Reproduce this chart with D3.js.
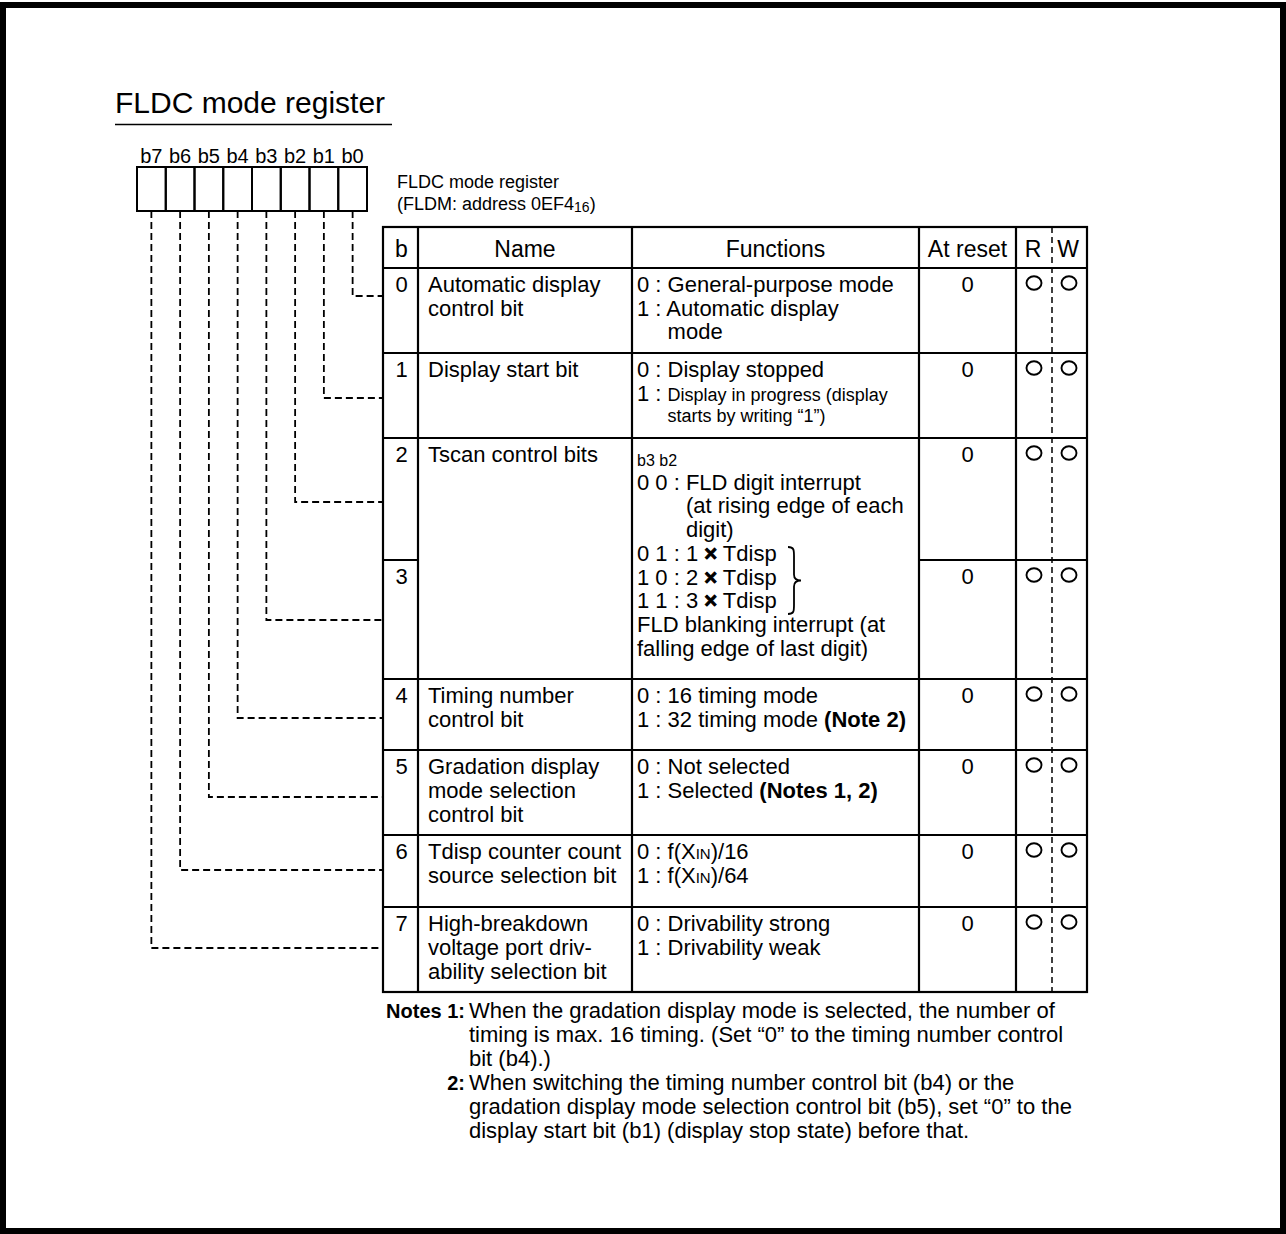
<!DOCTYPE html>
<html><head><meta charset="utf-8">
<script src="https://cdn.jsdelivr.net/npm/d3@7"></script>
<style>
body{margin:0;background:#fff}
svg{display:block}
text{font-family:"Liberation Sans",Arial,Helvetica,sans-serif;fill:#000;white-space:pre}
</style>
</head><body>
<svg id="c" width="1286" height="1234"></svg>
<script>
// ---------------- DATA ----------------
const titleText = "FLDC mode register";
const bitLabels = ["b7","b6","b5","b4","b3","b2","b1","b0"];
const registerCaption = ["FLDC mode register", "(FLDM: address 0EF4<sub>16</sub>)"];
const headers = ["b","Name","Functions","At reset","R","W"];
const bitNumbers = ["0","1","2","3","4","5","6","7"];
const bitNames = [
  ["Automatic display","control bit"],
  ["Display start bit"],
  ["Tscan control bits"],
  null,
  ["Timing number","control bit"],
  ["Gradation display","mode selection","control bit"],
  ["Tdisp counter count","source selection bit"],
  ["High-breakdown","voltage port driv-","ability selection bit"]
];
const bitFunctions = [
  ["0 : General-purpose mode","1 : Automatic display","  mode"],
  ["0 : Display stopped","1 : <s>Display in progress (display</s>","  <s>starts by writing “1”)</s>"],
  ["<xs>b3 b2</xs>","0 0 : FLD digit interrupt","  (at rising edge of each","  digit)",
   "0 1 : 1 <x>×</x> Tdisp","1 0 : 2 <x>×</x> Tdisp","1 1 : 3 <x>×</x> Tdisp",
   "FLD blanking interrupt (at","falling edge of last digit)"],
  null,
  ["0 : 16 timing mode","1 : 32 timing mode <b>(Note 2)</b>"],
  ["0 : Not selected","1 : Selected <b>(Notes 1, 2)</b>"],
  ["0 : f(X<sc>IN</sc>)/16","1 : f(X<sc>IN</sc>)/64"],
  ["0 : Drivability strong","1 : Drivability weak"]
];
const resetValues = ["0","0","0","0","0","0","0","0"];
const readable = [true,true,true,true,true,true,true,true];
const writable = [true,true,true,true,true,true,true,true];
const notes = [
  {label:"Notes 1:", lines:["When the gradation display mode is selected, the number of",
    "timing is max. 16 timing. (Set “0” to the timing number control","bit (b4).)"]},
  {label:"2:", lines:["When switching the timing number control bit (b4) or the",
    "gradation display mode selection control bit (b5), set “0” to the",
    "display start bit (b1) (display stop state) before that."]}
];

// ---------------- LAYOUT ----------------
const W = 1286, H = 1234;
const svg = d3.select("#c");
const BODY = 22, SMALL = 18, LINE = 23.7;

// frame
svg.append("rect").attr("x",3).attr("y",5).attr("width",W-6).attr("height",H-8)
  .attr("fill","none").attr("stroke","#000").attr("stroke-width",6);

function rich(parent, x, y, str, size, anchor){
  const t = parent.append("text").attr("x",x).attr("y",y).attr("font-size",size)
    .attr("text-anchor",anchor||"start");
  const toks = str.split(/(<\/?[a-z]+>)/).filter(s=>s!=="");
  const st = {}; let shift = 0;
  toks.forEach(tok=>{
    const m = tok.match(/^<(\/?)([a-z]+)>$/);
    if(m){ st[m[2]] = !m[1]; return; }
    const ts = t.append("tspan").text(tok);
    if(st.b) ts.attr("font-weight","bold");
    if(st.s) ts.attr("font-size",SMALL);
    if(st.xs) ts.attr("font-size",16);
    if(st.sc) ts.attr("font-size",15);
    if(st.x) ts.attr("font-weight","bold").attr("stroke","#000").attr("stroke-width",0.9);
    if(st.sub){ ts.attr("font-size",14).attr("dy",2); shift = 2; }
    else if(shift){ ts.attr("dy",-shift); shift = 0; }
  });
  return t;
}
function measure(str, size){
  const t = svg.append("text").attr("font-size",size).text(str);
  const w = t.node().getComputedTextLength(); t.remove(); return w;
}

// title
rich(svg, 115, 113, titleText, 30);
svg.append("line").attr("x1",115).attr("x2",392).attr("y1",124.5).attr("y2",124.5)
  .attr("stroke","#000").attr("stroke-width",1.5);

// register box
const bx = d3.scaleBand().domain(bitLabels).range([137,367]);
const boxTop = 167, boxBot = 211;
svg.selectAll("rect.bit").data(bitLabels).join("rect").attr("class","bit")
  .attr("x",d=>bx(d)).attr("y",boxTop).attr("width",bx.bandwidth()).attr("height",boxBot-boxTop)
  .attr("fill","none").attr("stroke","#000").attr("stroke-width",2);
bitLabels.forEach(d=>rich(svg, bx(d)+bx.bandwidth()/2, 163, d, 20, "middle"));

// caption
rich(svg, 397, 188, registerCaption[0], 18);
rich(svg, 397, 210, registerCaption[1], 18);

// table geometry
const colX = [383, 418, 632, 919, 1016, 1087];
const rwMid = 1052;
const headTop = 227, headBot = 268;
const rowHeights = [85,85,122,119,71,85,72,85];
const rowTop = [];
rowHeights.reduce((acc,h,i)=>{ rowTop[i]=acc; return acc+h; }, headBot);
const tableBot = rowTop[7] + rowHeights[7];

const grid = svg.append("g").attr("stroke","#000").attr("stroke-width",2.2).attr("fill","none");
grid.append("rect").attr("x",colX[0]).attr("y",headTop).attr("width",colX[5]-colX[0]).attr("height",tableBot-headTop);
[1,2,3,4].forEach(i=>grid.append("line").attr("x1",colX[i]).attr("x2",colX[i]).attr("y1",headTop).attr("y2",tableBot));
grid.append("line").attr("x1",colX[0]).attr("x2",colX[5]).attr("y1",headBot).attr("y2",headBot);
bitNumbers.forEach((b,i)=>{
  if(i===0) return;
  const merged = bitNames[i]===null; // continuation row
  if(merged){
    grid.append("line").attr("x1",colX[0]).attr("x2",colX[1]).attr("y1",rowTop[i]).attr("y2",rowTop[i]);
    grid.append("line").attr("x1",colX[3]).attr("x2",colX[5]).attr("y1",rowTop[i]).attr("y2",rowTop[i]);
  } else {
    grid.append("line").attr("x1",colX[0]).attr("x2",colX[5]).attr("y1",rowTop[i]).attr("y2",rowTop[i]);
  }
});
svg.append("line").attr("x1",rwMid).attr("x2",rwMid).attr("y1",headTop).attr("y2",tableBot)
  .attr("stroke","#000").attr("stroke-width",1.5).attr("stroke-dasharray","6,4");

// headers
const headX = [(colX[0]+colX[1])/2+1,(colX[1]+colX[2])/2,(colX[2]+colX[3])/2,(colX[3]+colX[4])/2,1033,1068];
headers.forEach((h,i)=>rich(svg, headX[i], 257, h, 23, "middle"));

// rows
const nameX = 428, funcX = 637;
bitNumbers.forEach((b,i)=>{
  const top = rowTop[i];
  const base = top + 24;
  rich(svg, (colX[0]+colX[1])/2+1, base, b, BODY, "middle");
  rich(svg, (colX[3]+colX[4])/2, base, resetValues[i], BODY, "middle");
  const cy = top + 15;
  if(readable[i]) svg.append("ellipse").attr("cx",1034).attr("cy",cy).attr("rx",7.5).attr("ry",6.8)
      .attr("fill","none").attr("stroke","#000").attr("stroke-width",1.9);
  if(writable[i]) svg.append("ellipse").attr("cx",1069).attr("cy",cy).attr("rx",7.5).attr("ry",6.8)
      .attr("fill","none").attr("stroke","#000").attr("stroke-width",1.9);
  if(bitNames[i]) bitNames[i].forEach((n,k)=>rich(svg, nameX, base + k*24, n, BODY));
  const f = bitFunctions[i];
  if(f){
    let y = base, indent = 0;
    f.forEach((ln,k)=>{
      const firstSmall = /^<xs>/.test(ln);
      if(k===0 && firstSmall) y = top + 28;
      else if(k>0) y += (/<s>/.test(f[k-1]) && /<s>/.test(ln)) ? 21.5 : LINE;
      let x = funcX;
      let s = ln;
      if(ln.startsWith("  ")){ s = ln.slice(2); x = funcX + indent; }
      else {
        const plain = ln.replace(/<[^>]+>/g,"");
        const p = plain.indexOf(": ");
        if(p>=0) indent = measure(plain.slice(0,p+2), BODY);
      }
      rich(svg, x, y, s, BODY);
    });
  }
});

// brace for the 01/10/11 group
(function(){
  const x0 = 788, yT = 547, yB = 614, ym = (yT+yB)/2;
  const p = `M${x0},${yT} C${x0+6},${yT} ${x0+6},${yT+3} ${x0+6},${yT+9} L${x0+6},${ym-6}
    C${x0+6},${ym-2} ${x0+9},${ym} ${x0+13},${ym} C${x0+9},${ym} ${x0+6},${ym+2} ${x0+6},${ym+6}
    L${x0+6},${yB-9} C${x0+6},${yB-3} ${x0+6},${yB} ${x0},${yB}`;
  svg.append("path").attr("d",p).attr("fill","none").attr("stroke","#000").attr("stroke-width",1.8);
})();

// leader lines
const leaderOff = [28,45,64,60,39,47,35,41];
bitLabels.forEach(d=>{
  const bit = +d.slice(1);
  const x = bx(d)+bx.bandwidth()/2;
  const y = rowTop[bit] + leaderOff[bit];
  svg.append("path").attr("d",`M${x},${boxBot} V${y} H${colX[0]}`)
    .attr("fill","none").attr("stroke","#000").attr("stroke-width",1.8).attr("stroke-dasharray","7,4");
});

// notes
let ny = 1018;
notes.forEach((n,i)=>{
  rich(svg, 465, ny, "<b>"+n.label+"</b>", 20, "end");
  n.lines.forEach((ln,k)=>{ rich(svg, 469, ny, ln, BODY); ny += 24; });
});
</script>
</body></html>
